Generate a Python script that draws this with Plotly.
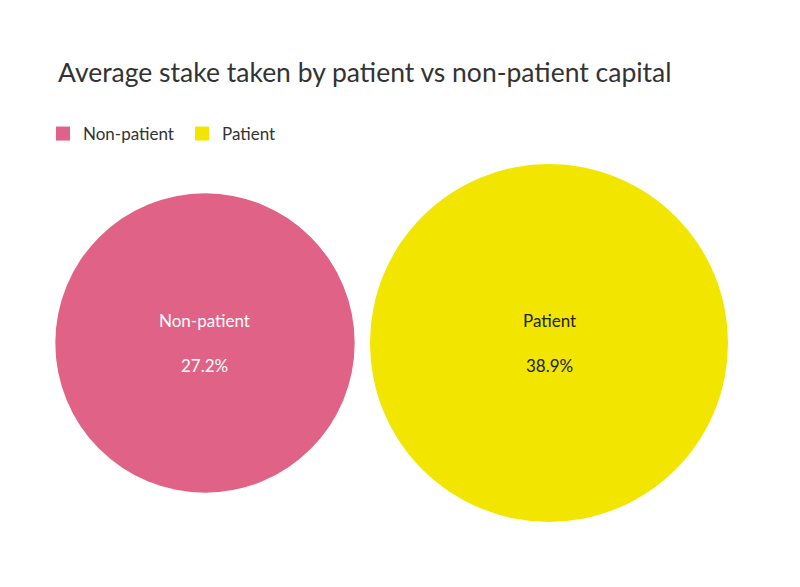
import plotly.graph_objects as go

# chart data
groups = ["Non-patient", "Patient"]
stakes = [27.2, 38.9]
colors = ["#E06287", "#F2E500"]
text_colors = ["#FFFFFF", "#222222"]

FONT = "Lato"
max_diam = 358  # px diameter for the largest value
sizeref = 2.0 * max(stakes) / max_diam ** 2

# page body adds an 8px margin, so the figure is 8px smaller
W, H = 792, 579

fig = go.Figure()

# bubbles sized by area
for i, (g, v) in enumerate(zip(groups, stakes)):
    fig.add_trace(go.Scatter(
        x=[i], y=[0], mode="markers", showlegend=False, hoverinfo="skip",
        marker=dict(size=[v], sizemode="area", sizeref=sizeref,
                    color=colors[i], line=dict(width=0), opacity=1),
        cliponaxis=False,
    ))
    fig.add_annotation(x=i, y=0, text=g, showarrow=False, yshift=23,
                       font=dict(family=FONT, size=17, color=text_colors[i]))
    fig.add_annotation(x=i, y=0, text=f"{v}%", showarrow=False, yshift=-22,
                       font=dict(family=FONT, size=17, color=text_colors[i]))

# legend entries as squares
for g, c in zip(groups, colors):
    fig.add_trace(go.Scatter(
        x=[None], y=[None], mode="markers", name=g,
        marker=dict(symbol="square", size=14, color=c),
    ))

fig.update_layout(
    width=W, height=H,
    paper_bgcolor="white", plot_bgcolor="white",
    margin=dict(l=50, r=50, t=140, b=53),
    font=dict(family=FONT, color="#333333"),
    title=dict(text="Average stake taken by patient vs non-patient capital",
               x=50 / W, xanchor="left", xref="container",
               y=1 - 65 / H, yanchor="middle", yref="container",
               font=dict(family=FONT, size=26.5, color="#333333")),
    legend=dict(orientation="h", x=35 / W, xanchor="left", xref="container",
                y=1 - 126 / H, yanchor="middle", yref="container",
                font=dict(family=FONT, size=17, color="#333333"),
                entrywidth=94, traceorder="normal"),
    xaxis=dict(range=[-0.4273, 1.5843], visible=False, fixedrange=True),
    yaxis=dict(range=[-1, 1], visible=False, fixedrange=True),
)

fig.write_html("out.html")
